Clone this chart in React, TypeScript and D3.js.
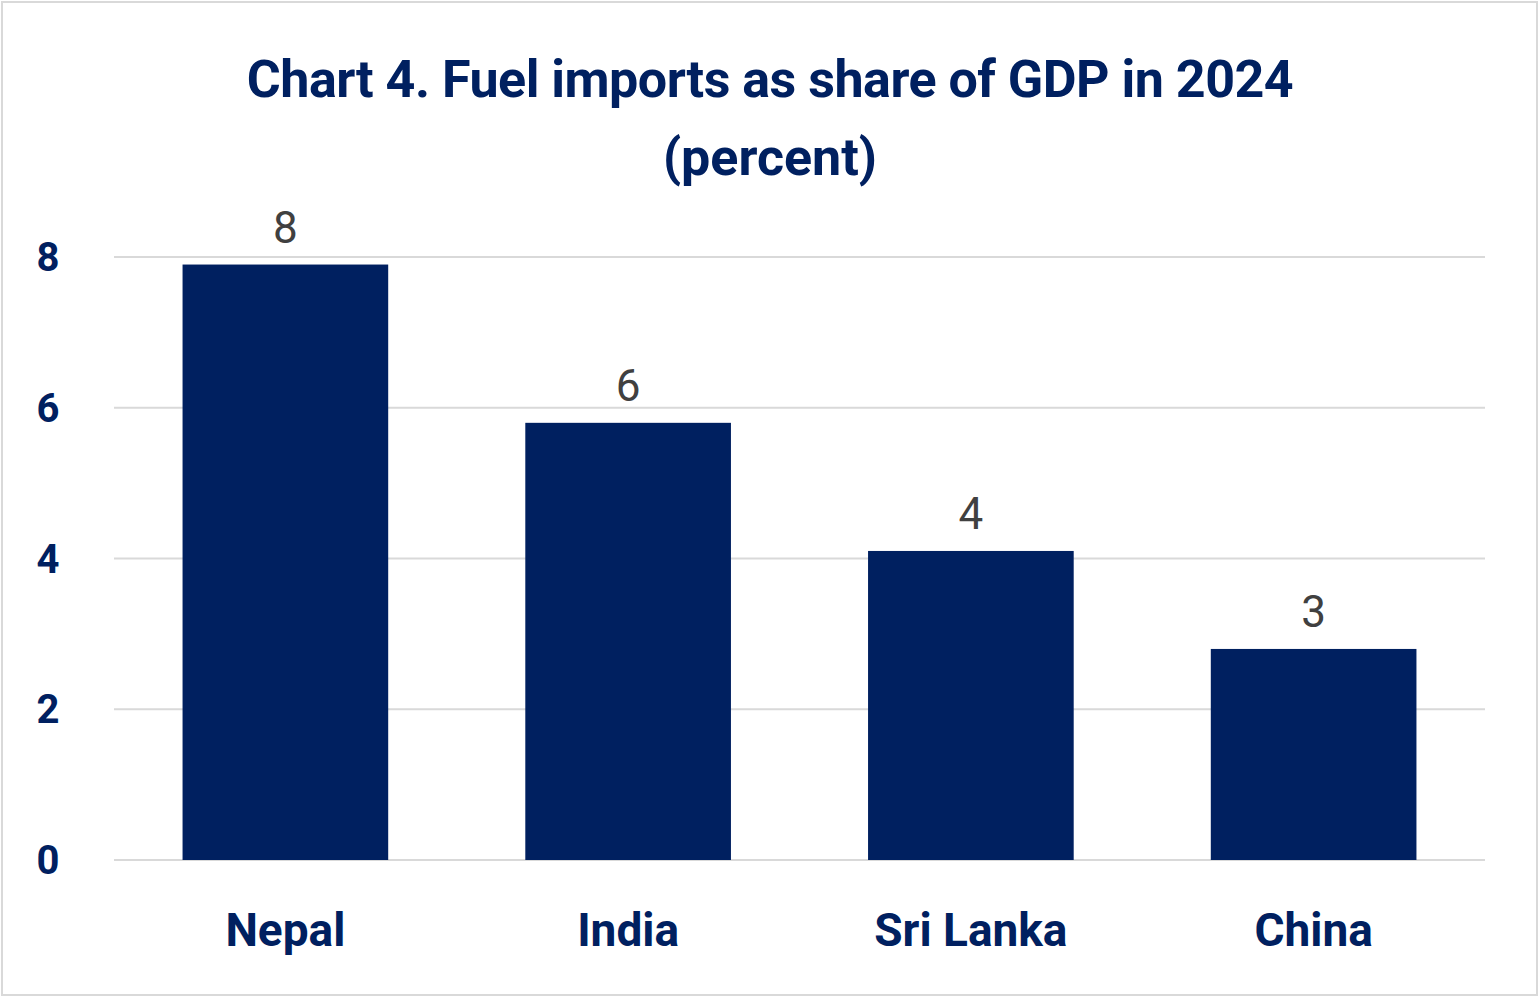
import React from 'react'
import * as d3 from 'd3'

const countries = ['Nepal', 'India', 'Sri Lanka', 'China']
const shares = [7.9, 5.8, 4.1, 2.8]
const yTicks = [0, 2, 4, 6, 8]

const W = 1540
const H = 999
const navy = '#002060'

const App: React.FC = () => {
  const x = d3.scaleBand<string>().domain(countries).range([114, 1485]).paddingInner(0.4).paddingOuter(0.2)
  const y = d3.scaleLinear().domain([0, 8]).range([860, 257])
  const font = 'Roboto, sans-serif'

  return (
    <svg width={W} height={H} style={{ position: 'absolute', left: 0, top: 0 }} fontFamily={font}>
      <rect x={2} y={2} width={W - 5} height={H - 6} fill="#fff" stroke="#d9d9d9" strokeWidth={2} />
      <text x={770} y={97} textAnchor="middle" fontSize={52} fontWeight={700} fill={navy} letterSpacing={-0.5}>
        Chart 4. Fuel imports as share of GDP in 2024
      </text>
      <text x={770} y={175} textAnchor="middle" fontSize={52} fontWeight={700} fill={navy}>
        (percent)
      </text>
      {yTicks.map((t) => (
        <g key={t}>
          <line x1={114} x2={1485} y1={y(t)} y2={y(t)} stroke="#d9d9d9" strokeWidth={2} />
          <text x={48} y={y(t)} dy="0.35em" textAnchor="middle" fontSize={40} fontWeight={700} fill={navy}>
            {t}
          </text>
        </g>
      ))}
      {countries.map((c, i) => {
        const bx = x(c)!
        const cx = bx + x.bandwidth() / 2
        return (
          <g key={c}>
            <rect x={bx} y={y(shares[i])} width={x.bandwidth()} height={y(0) - y(shares[i])} fill={navy} />
            <text x={cx} y={y(shares[i]) - 22} textAnchor="middle" fontSize={44} fill="#404040">
              {Math.round(shares[i])}
            </text>
            <text x={cx} y={946} textAnchor="middle" fontSize={46} fontWeight={700} fill={navy}>
              {c}
            </text>
          </g>
        )
      })}
    </svg>
  )
}

export default App
